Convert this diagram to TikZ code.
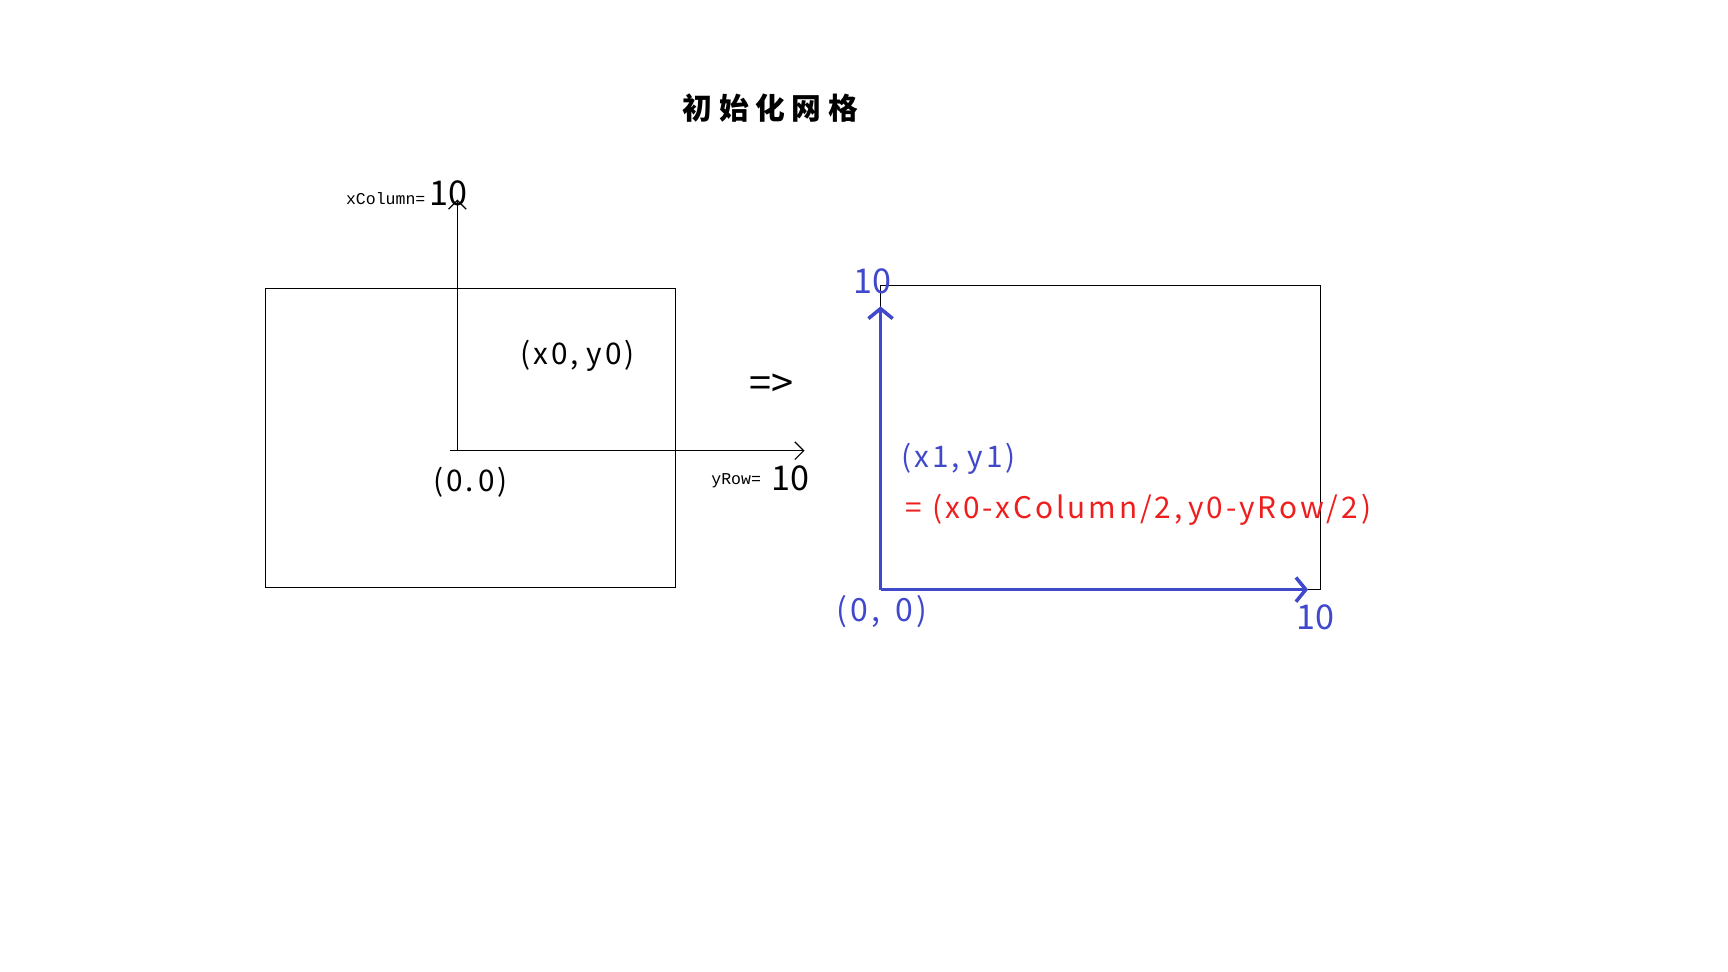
\documentclass[tikz,border=0pt]{standalone}
\usepackage{fontspec}
\usepackage{xcolor}
\usetikzlibrary{arrows.meta,positioning}
\newfontfamily\hei[LetterSpace=10]{Noto Sans CJK SC}
\newfontfamily\num{Noto Sans CJK SC}
\newfontfamily\song{Liberation Mono}
\newfontfamily\cjk[LetterSpace=22]{Noto Sans CJK SC}
\definecolor{penblue}{RGB}{64,72,204}
\definecolor{penred}{RGB}{238,30,30}

\begin{document}
\begin{tikzpicture}[x=1pt,y=-1pt,>=Latex,
  lbl/.style={inner sep=0pt,font=\hei\fontsize{27}{30}\selectfont},
  big/.style={inner sep=0pt,font=\num\fontsize{31}{34}\selectfont},
  small/.style={inner sep=0pt,font=\song\fontsize{15}{18}\selectfont},
  axis/.style={line width=1.1pt,-{Straight Barb[length=8pt,width=16pt]}},
  baxis/.style={penblue,line width=3.2pt,-{Straight Barb[length=9pt,width=22pt]}}]
  \useasboundingbox (0,0) rectangle (1568,882);
  \node[font=\cjk\bfseries\fontsize{27}{30}\selectfont,inner sep=0pt] (title) at (699,98) {初始化网格};
  % left grid
  \draw[line width=1.1pt] (241,262) rectangle (613,533);
  \coordinate (o0) at (415,409);
  \coordinate (ytip) at (415,181);
  \coordinate (xfoot) at (408,409);
  \coordinate (xtip) at (730,409);
  \draw[axis] (o0) -- (ytip);
  \draw[axis] (xfoot) -- (xtip);
  \node[big] (xcolval) at (407,175) {10};
  \node[small] (xcol) at (350,180) {xColumn=};
  \node[lbl] (p0) at (524,323) {(x0,\hspace{7pt}y0)};
  \node[lbl] (orig0) at (427,438) {(0.\kern4pt0)};
  \node[big] (yrowval) at (717,434) {10};
  \node[small] (yrow) at (668,436) {yRow=};
  \node[inner sep=0pt,font=\num\fontsize{36}{40}\selectfont] (imply) at (700,350) {=>};
  % right grid
  \draw[line width=1.1pt] (799,259) rectangle (1198,535);
  \coordinate (o1) at (799,535);
  \coordinate (ytop) at (799,278);
  \coordinate (xend) at (1187,535);
  \draw[baxis] (o1) -- (ytop);
  \draw[baxis] (o1) -- (xend);
  \node[big,text=penblue] (ytopval) at (792,255) {10};
  \node[big,text=penblue] (xendval) at (1194,560) {10};
  \node[lbl,text=penblue,font=\hei\fontsize{29}{34}\selectfont] (orig1) at (800,555) {(0,\hspace{14pt}0)};
  \node[lbl,text=penblue] (p1) at (870,416) {(x1,\hspace{7pt}y1)};
  \node[lbl,text=penred,anchor=west] (formula) at (821,463) {=\hspace{10pt}(x0-xColumn/2,\hspace{5pt}y0-yRow/2)};
\end{tikzpicture}
\end{document}
